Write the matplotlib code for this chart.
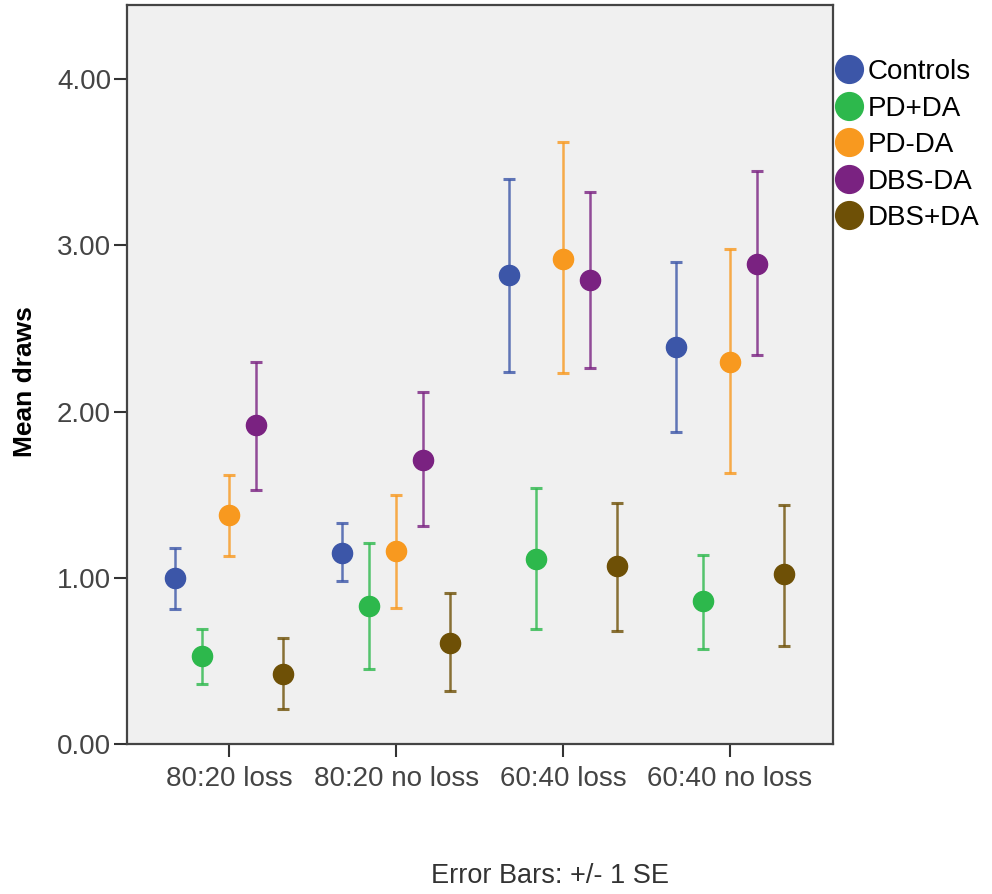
import matplotlib
matplotlib.use('Agg')
import matplotlib.pyplot as plt
from matplotlib.lines import Line2D
import numpy as np

plt.rcParams['font.family'] = ['Liberation Sans', 'DejaVu Sans']

categories = ['80:20 loss', '80:20 no loss', '60:40 loss', '60:40 no loss']
groups = ['Controls', 'PD+DA', 'PD-DA', 'DBS-DA', 'DBS+DA']
colors = ['#3C56A8', '#2DB84C', '#F8991F', '#7A2281', '#6E5006']

# mean draws per group, one value per condition
means_controls = [1.00, 1.15, 2.82, 2.39]
means_pd_da = [0.53, 0.83, 1.11, 0.86]
means_pd_noda = [1.38, 1.16, 2.92, 2.30]
means_dbs_noda = [1.92, 1.71, 2.79, 2.89]
means_dbs_da = [0.42, 0.61, 1.07, 1.02]

# error bar ends (+/- 1 SE)
low_controls = [0.81, 0.98, 2.24, 1.88]
low_pd_da = [0.36, 0.45, 0.69, 0.57]
low_pd_noda = [1.13, 0.82, 2.23, 1.63]
low_dbs_noda = [1.53, 1.31, 2.26, 2.34]
low_dbs_da = [0.21, 0.32, 0.68, 0.59]

high_controls = [1.18, 1.33, 3.40, 2.90]
high_pd_da = [0.69, 1.21, 1.54, 1.14]
high_pd_noda = [1.62, 1.50, 3.62, 2.98]
high_dbs_noda = [2.30, 2.12, 3.32, 3.45]
high_dbs_da = [0.64, 0.91, 1.45, 1.44]

means = [means_controls, means_pd_da, means_pd_noda, means_dbs_noda, means_dbs_da]
lows = [low_controls, low_pd_da, low_pd_noda, low_dbs_noda, low_dbs_da]
highs = [high_controls, high_pd_da, high_pd_noda, high_dbs_noda, high_dbs_da]

fig = plt.figure(figsize=(9.92, 8.94), dpi=100)
ax = fig.add_axes([127/992, 150/894, 706/992, 739/894])
ax.set_facecolor('#F0F0F0')

xs = np.arange(len(categories))
step = 0.162
for i, g in enumerate(groups):
    m = np.array(means[i])
    lo = m - np.array(lows[i])
    hi = np.array(highs[i]) - m
    x = xs + (i - 2) * step
    ax.errorbar(x, m, yerr=[lo, hi], fmt='none', ecolor=colors[i], alpha=0.8,
                elinewidth=1.8, capsize=4, capthick=2.2, zorder=2)
    ax.plot(x, m, 'o', color=colors[i], markersize=14.5, zorder=3)

ax.set_xlim(-0.614, 3.62)
ax.set_ylim(0, 4.446)
ax.set_xticks(xs)
ax.set_xticklabels(categories)
ax.set_yticks([0, 1, 2, 3, 4])
ax.set_yticklabels(['0.00', '1.00', '2.00', '3.00', '4.00'])
ax.tick_params(axis='both', direction='out', length=9.5, width=1.5, color='#333333',
               labelsize=20, labelcolor='#444444')
ax.tick_params(axis='y', pad=2)
ax.tick_params(axis='x', pad=6)
for s in ax.spines.values():
    s.set_color('#444444')
    s.set_linewidth(1.6)

ax.set_ylabel('Mean draws', fontsize=19, fontweight='bold')
ax.yaxis.set_label_coords(-0.128, 0.49)

handles = [Line2D([], [], marker='o', linestyle='none', color=c, markersize=20) for c in colors]
fig.legend(handles, groups, loc='upper left', bbox_to_anchor=(832/992, 1 - 59/894),
           frameon=False, fontsize=20, handletextpad=0.1, labelspacing=0.38,
           handlelength=1.2, borderpad=0, borderaxespad=0)

fig.text(550/992, 18/894, 'Error Bars: +/- 1 SE', ha='center', va='center',
         fontsize=19.5, color='#333333')

fig.savefig('out.png', dpi=100)
